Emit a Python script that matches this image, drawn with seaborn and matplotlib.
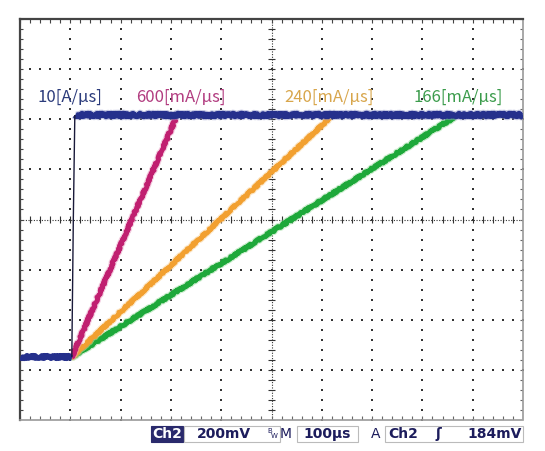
import numpy as np
import pandas as pd
import matplotlib
matplotlib.use("Agg")
import matplotlib.pyplot as plt
import matplotlib.patheffects as pe
from matplotlib.patches import Rectangle
import seaborn as sns

# ---------------- data (time in us, level in mV, 100us/div, 200mV/div) ----------------
blue_base_t = [0, 104]
blue_base_v = [-549, -549]
blue_step_t = [103, 106, 109]
blue_step_v = [-549, 0, 417]
blue_top_t = [110, 1000]
blue_top_v = [417, 417]

magenta_t = [103, 310]
magenta_v = [-549, 405]
orange_t = [103, 616]
orange_v = [-549, 405]
green_t = [103, 865]
green_v = [-549, 410]

rate_labels = ["10[A/\u03bcs]", "600[mA/\u03bcs]", "240[mA/\u03bcs]", "166[mA/\u03bcs]"]
label_colors = ["#2c3c7c", "#b23c80", "#d8a64c", "#3c9c4c"]
label_x_px = [70, 181, 329, 458]

status_items = ["Ch2", "200mV", "100\u00b5s", "A", "Ch2", "\u0283", "184mV"]

# ---------------- figure ----------------
sns.set_theme(style="white")
plt.rcParams["font.family"] = ["DejaVu Sans"]
W, H = 545, 451
fig = plt.figure(figsize=(W / 100, H / 100), dpi=100)
fig.patch.set_facecolor("white")
L, R, T, B = 20, 523, 19, 420
ax = fig.add_axes([L / W, 1 - B / H, (R - L) / W, (B - T) / H])
ax.set_facecolor("white")
ax.set_xlim(0, 1000)
ax.set_ylim(-800, 800)
ax.set_xticks([])
ax.set_yticks([])

# grid: sparse dotted lines
gx = np.arange(100, 1000, 100)
gy = np.arange(-600, 800, 200)
minor_x = np.arange(0, 1001, 20)
minor_y = np.arange(-800, 801, 40)
for x in gx:
    if x == 500:
        continue
    ax.scatter(np.full_like(minor_y, x), minor_y, s=0.7, marker="s", color="#333333", lw=0, zorder=1)
for y in gy:
    if y == 0:
        continue
    ax.scatter(minor_x, np.full_like(minor_x, y), s=0.7, marker="s", color="#333333", lw=0, zorder=1)

# center crosshair: dense dots with ticks
ax.axhline(0, color="#333333", lw=0.8, ls=(0, (1, 1.4)), zorder=1)
ax.axvline(500, color="#333333", lw=0.8, ls=(0, (1, 1.4)), zorder=1)
ax.vlines(minor_x, -12, 12, color="#333333", lw=0.8, zorder=1)
ax.hlines(minor_y, 494, 506, color="#333333", lw=0.8, zorder=1)

# frame ticks (inward)
ax.vlines(minor_x, 800 - 14, 800, color="#444444", lw=0.8, zorder=1)
ax.vlines(minor_x, -800, -800 + 14, color="#666666", lw=0.8, zorder=1)
ax.hlines(minor_y, 0, 6, color="#444444", lw=0.8, zorder=1)
ax.hlines(minor_y, 1000 - 6, 1000, color="#666666", lw=0.8, zorder=1)

for side in ["left", "top"]:
    ax.spines[side].set_color("#444444")
    ax.spines[side].set_linewidth(1.6)
for side in ["right", "bottom"]:
    ax.spines[side].set_color("#9a9a9a")
    ax.spines[side].set_linewidth(1.2)
    ax.spines[side].set_linestyle((0, (1, 1)))

# ---------------- traces ----------------
def trace(t, v, color, lw, halo, z, sketch=(1.0, 1.5, 4)):
    df = pd.DataFrame({"t": t, "v": v})
    n0 = len(ax.lines)
    sns.lineplot(data=df, x="t", y="v", ax=ax, color=color, lw=lw,
                 sort=False, estimator=None, legend=False, zorder=z)
    for ln in ax.lines[n0:]:
        if sketch:
            ln.set_sketch_params(*sketch)
        if halo:
            ln.set_path_effects([pe.Stroke(linewidth=lw + 1.6, foreground=halo, alpha=0.5), pe.Normal()])
        ln.set_solid_capstyle("butt")

trace(green_t, green_v, "#1ea83a", 3.6, "#9bdc9f", 3)
trace(orange_t, orange_v, "#f2a030", 3.4, "#f9d39a", 4)
trace(magenta_t, magenta_v, "#c01f70", 3.4, "#eaa0c4", 5)
trace(blue_base_t, blue_base_v, "#25308c", 4.2, None, 6, (1.2, 1.5, 4))
trace(blue_top_t, blue_top_v, "#25308c", 4.4, "#8f95c8", 6, (1.2, 1.5, 4))
trace(blue_step_t, blue_step_v, "#1a1a3a", 1.0, None, 6, None)
ax.set_xlabel("")
ax.set_ylabel("")

# rate labels
for s, c, xp in zip(rate_labels, label_colors, label_x_px):
    fig.text(xp / W, 1 - 97 / H, s, color=c, fontsize=12, ha="center", va="center",
             family=["Noto Sans CJK JP", "DejaVu Sans"])

# ---------------- status bar ----------------
navy = "#1c1c5c"
yc = 1 - 434 / H
def box(x0, x1, **kw):
    fig.add_artist(Rectangle((x0 / W, 1 - 442 / H), (x1 - x0) / W, 16 / H,
                             transform=fig.transFigure, **kw))
box(151, 183, facecolor="#2a2a6c", edgecolor="#2a2a6c", lw=0.8)
box(184, 280, facecolor="none", edgecolor="#bbbbbb", lw=0.8)
box(297, 358, facecolor="none", edgecolor="#bbbbbb", lw=0.8)
box(385, 523, facecolor="none", edgecolor="#bbbbbb", lw=0.8)

fs = 10
fig.text(167 / W, yc, status_items[0], color="white", fontsize=fs, weight="bold", ha="center", va="center")
fig.text(224 / W, yc, status_items[1], color=navy, fontsize=fs, weight="bold", ha="center", va="center")
fig.text(270 / W, 1 - 431 / H, "B", color=navy, fontsize=5, ha="center", va="center")
fig.text(274 / W, 1 - 436 / H, "W", color=navy, fontsize=5, ha="center", va="center")
fig.text(286 / W, yc, "M", color=navy, fontsize=fs, ha="center", va="center")
fig.text(327 / W, yc, status_items[2], color=navy, fontsize=fs, weight="bold", ha="center", va="center")
fig.text(376 / W, yc, status_items[3], color=navy, fontsize=fs, ha="center", va="center")
fig.text(403 / W, yc, status_items[4], color=navy, fontsize=fs, weight="bold", ha="center", va="center")
fig.text(438 / W, yc, status_items[5], color=navy, fontsize=fs, weight="bold", ha="center", va="center")
fig.text(495 / W, yc, status_items[6], color=navy, fontsize=fs, weight="bold", ha="center", va="center")

fig.savefig("out.png", dpi=100, facecolor="white")
